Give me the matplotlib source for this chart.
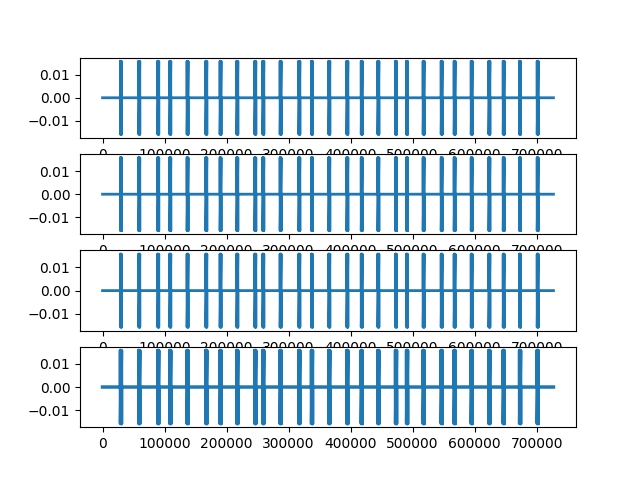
import matplotlib
matplotlib.use('Agg')
import matplotlib.pyplot as plt
import numpy as np

# burst centres (sample index), same for every channel
burst_centres = [29700, 59200, 89800, 109200, 137100, 167300, 190300, 217300,
                 246300, 259200, 287100, 317300, 337700, 365600, 394700, 417900,
                 444700, 473200, 491000, 517700, 546800, 567700, 595200, 623700,
                 646800, 673200, 701600]
n_samples = 727000
burst_amp = [0.0158, 0.0158, 0.0158, 0.0158]   # one per channel
burst_width = 1600
# noise floor makes the zero line look thicker, more so in the last channel
line_widths = [2.0, 2.0, 2.0, 2.5]

fig, axes = plt.subplots(4, 1)

for ax, amp, lw in zip(axes, burst_amp, line_widths):
    xs = [0]
    ys = [0.0]
    for c in burst_centres:
        left = c - burst_width / 2
        right = c + burst_width / 2
        xs += [left, left, left, right, right, right]
        ys += [0.0, amp, -amp, amp, -amp, 0.0]
    xs.append(n_samples)
    ys.append(0.0)
    ax.plot(xs, ys, linewidth=lw)

plt.savefig('out.png', dpi=100)
plt.close()
